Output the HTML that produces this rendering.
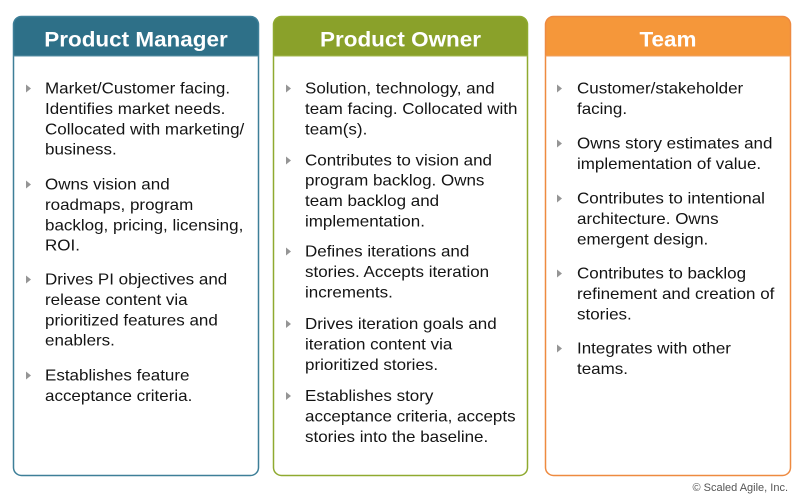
<!DOCTYPE html>
<html><head><meta charset="utf-8"><style>
html,body{margin:0;padding:0;background:#fff;width:800px;height:499px;overflow:hidden}
svg{display:block}
.t{font-family:"Liberation Sans",Arial,sans-serif;font-size:16px;fill:#141414}
.h{font-family:"Liberation Sans",Arial,sans-serif;font-size:21px;font-weight:bold;fill:#fff}
.c{font-family:"Liberation Sans",Arial,sans-serif;font-size:11px;fill:#555}
.b{fill:#959595}
</style></head><body>
<svg width="800" height="499" viewBox="0 0 800 499" xmlns="http://www.w3.org/2000/svg">
<!-- Box 1 -->
<path d="M13.5,56 V24 Q13.5,16.5 21,16.5 H251 Q258.5,16.5 258.5,24 V56 Z" fill="#2e7088"/>
<rect x="13.5" y="16.5" width="245" height="459" rx="8" fill="none" stroke="#3d7f98" stroke-width="1.5"/>
<line x1="13.5" y1="56" x2="258.5" y2="56" stroke="#5a8fa5" stroke-width="1"/>
<text class="h" text-anchor="middle" transform="translate(136,46.5) scale(1.07,1)">Product Manager</text>
<!-- Box 2 -->
<path d="M273.5,56 V24 Q273.5,16.5 281,16.5 H520 Q527.5,16.5 527.5,24 V56 Z" fill="#8aa12a"/>
<rect x="273.5" y="16.5" width="254" height="459" rx="8" fill="none" stroke="#8faa30" stroke-width="1.5"/>
<line x1="273.5" y1="56" x2="527.5" y2="56" stroke="#a4b950" stroke-width="1"/>
<text class="h" text-anchor="middle" transform="translate(400.5,46.5) scale(1.07,1)">Product Owner</text>
<!-- Box 3 -->
<path d="M545.5,56 V24 Q545.5,16.5 553,16.5 H783 Q790.5,16.5 790.5,24 V56 Z" fill="#f5973a"/>
<rect x="545.5" y="16.5" width="245" height="459" rx="8" fill="none" stroke="#ee8a40" stroke-width="1.5"/>
<line x1="545.5" y1="56" x2="790.5" y2="56" stroke="#f0a060" stroke-width="1"/>
<text class="h" text-anchor="middle" transform="translate(668,46.5) scale(1.07,1)">Team</text>

<!-- Box 1 bullets -->
<g class="b">
<polygon points="26,84.5 31,88.5 26,92.5"/>
<polygon points="26,180.5 31,184.5 26,188.5"/>
<polygon points="26,275.5 31,279.5 26,283.5"/>
<polygon points="26,371.5 31,375.5 26,379.5"/>
</g>
<g class="t">
<text transform="translate(45,93.5) scale(1.062,1)">Market/Customer facing.</text>
<text transform="translate(45,113.9) scale(1.062,1)">Identifies market needs.</text>
<text transform="translate(45,134.3) scale(1.062,1)">Collocated with marketing/</text>
<text transform="translate(45,154.7) scale(1.062,1)">business.</text>
<text transform="translate(45,189.5) scale(1.062,1)">Owns vision and</text>
<text transform="translate(45,209.9) scale(1.062,1)">roadmaps, program</text>
<text transform="translate(45,230.3) scale(1.062,1)">backlog, pricing, licensing,</text>
<text transform="translate(45,250.7) scale(1.062,1)">ROI.</text>
<text transform="translate(45,284.5) scale(1.062,1)">Drives PI objectives and</text>
<text transform="translate(45,304.9) scale(1.062,1)">release content via</text>
<text transform="translate(45,325.3) scale(1.062,1)">prioritized features and</text>
<text transform="translate(45,345.7) scale(1.062,1)">enablers.</text>
<text transform="translate(45,380.5) scale(1.062,1)">Establishes feature</text>
<text transform="translate(45,400.9) scale(1.062,1)">acceptance criteria.</text>
</g>

<!-- Box 2 bullets -->
<g class="b">
<polygon points="286,84.5 291,88.5 286,92.5"/>
<polygon points="286,156.5 291,160.5 286,164.5"/>
<polygon points="286,247.5 291,251.5 286,255.5"/>
<polygon points="286,320 291,324 286,328"/>
<polygon points="286,392 291,396 286,400"/>
</g>
<g class="t">
<text transform="translate(305,93.5) scale(1.062,1)">Solution, technology, and</text>
<text transform="translate(305,113.9) scale(1.062,1)">team facing. Collocated with</text>
<text transform="translate(305,134.3) scale(1.062,1)">team(s).</text>
<text transform="translate(305,165.3) scale(1.062,1)">Contributes to vision and</text>
<text transform="translate(305,185.7) scale(1.062,1)">program backlog. Owns</text>
<text transform="translate(305,206.1) scale(1.062,1)">team backlog and</text>
<text transform="translate(305,226.5) scale(1.062,1)">implementation.</text>
<text transform="translate(305,256.5) scale(1.062,1)">Defines iterations and</text>
<text transform="translate(305,276.9) scale(1.062,1)">stories. Accepts iteration</text>
<text transform="translate(305,297.3) scale(1.062,1)">increments.</text>
<text transform="translate(305,329) scale(1.062,1)">Drives iteration goals and</text>
<text transform="translate(305,349.4) scale(1.062,1)">iteration content via</text>
<text transform="translate(305,369.8) scale(1.062,1)">prioritized stories.</text>
<text transform="translate(305,401) scale(1.062,1)">Establishes story</text>
<text transform="translate(305,421.4) scale(1.062,1)">acceptance criteria, accepts</text>
<text transform="translate(305,441.8) scale(1.062,1)">stories into the baseline.</text>
</g>

<!-- Box 3 bullets -->
<g class="b">
<polygon points="557,84.5 562,88.5 557,92.5"/>
<polygon points="557,139.5 562,143.5 557,147.5"/>
<polygon points="557,194.5 562,198.5 557,202.5"/>
<polygon points="557,269.5 562,273.5 557,277.5"/>
<polygon points="557,344.5 562,348.5 557,352.5"/>
</g>
<g class="t">
<text transform="translate(577,93.5) scale(1.062,1)">Customer/stakeholder</text>
<text transform="translate(577,113.9) scale(1.062,1)">facing.</text>
<text transform="translate(577,148.5) scale(1.062,1)">Owns story estimates and</text>
<text transform="translate(577,168.9) scale(1.062,1)">implementation of value.</text>
<text transform="translate(577,203.5) scale(1.062,1)">Contributes to intentional</text>
<text transform="translate(577,223.9) scale(1.062,1)">architecture. Owns</text>
<text transform="translate(577,244.3) scale(1.062,1)">emergent design.</text>
<text transform="translate(577,278.5) scale(1.062,1)">Contributes to backlog</text>
<text transform="translate(577,298.9) scale(1.062,1)">refinement and creation of</text>
<text transform="translate(577,319.3) scale(1.062,1)">stories.</text>
<text transform="translate(577,353.5) scale(1.062,1)">Integrates with other</text>
<text transform="translate(577,373.9) scale(1.062,1)">teams.</text>
</g>

<text class="c" x="788" y="491" text-anchor="end">© Scaled Agile, Inc.</text>
</svg>
</body></html>
